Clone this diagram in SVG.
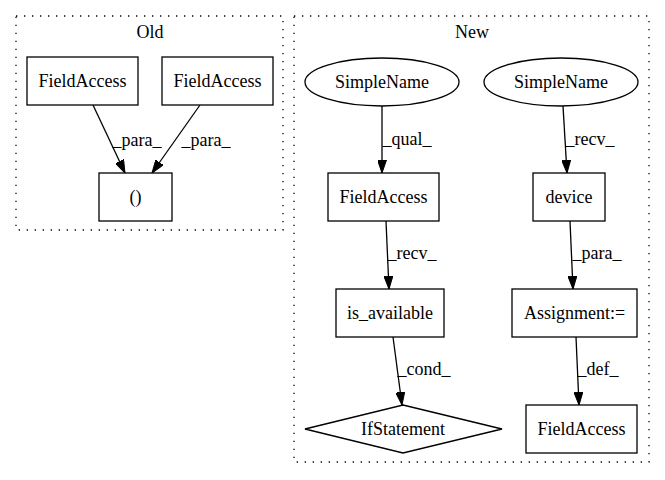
<svg xmlns="http://www.w3.org/2000/svg" width="665" height="480" viewBox="0 0 665 480">
<style>
text{font-family:"Liberation Serif","Times New Roman",serif;font-size:18px;fill:#000;text-anchor:middle}
.n{fill:#fff;stroke:#000;stroke-width:1.3}
.c{fill:none;stroke:#000;stroke-width:1.3;stroke-dasharray:1.3,6.7}
.e{fill:none;stroke:#000;stroke-width:1.3;marker-end:url(#a)}
</style>
<defs>
<marker id="a" markerWidth="13" markerHeight="9" refX="13" refY="4.5" orient="auto" markerUnits="userSpaceOnUse">
<path d="M0,0 L13,4.5 L0,9 z" fill="#000" stroke="#000"/>
</marker>
</defs>
<rect width="665" height="480" fill="#fff"/>
<g id="cluster_old">
<rect class="c" x="16" y="16" width="267" height="214"/>
<text x="150" y="38">Old</text>
</g>
<g id="cluster_new">
<rect class="c" x="294" y="16" width="355" height="446"/>
<text x="472" y="38">New</text>
</g>
<g id="edges">
<path class="e" d="M93,105 L125,173"/>
<text x="137" y="146">_para_</text>
<path class="e" d="M200,105 L152,173"/>
<text x="206" y="146">_para_</text>
<path class="e" d="M382,106 L382,173"/>
<text x="407" y="145">_qual_</text>
<path class="e" d="M563,106 L567,173"/>
<text x="590" y="145">_recv_</text>
<path class="e" d="M386,221 L389,289"/>
<text x="412" y="259">_recv_</text>
<path class="e" d="M570,221 L573,289"/>
<text x="597" y="259">_para_</text>
<path class="e" d="M393,337 L402,405"/>
<text x="424" y="375">_cond_</text>
<path class="e" d="M576,337 L579,405"/>
<text x="598" y="375">_def_</text>
</g>
<g id="old_fa1"><rect class="n" x="27" y="57" width="111" height="48"/><text x="82.5" y="87">FieldAccess</text></g>
<g id="old_fa2"><rect class="n" x="162" y="57" width="111" height="48"/><text x="217.5" y="87">FieldAccess</text></g>
<g id="old_paren"><rect class="n" x="99" y="173" width="73" height="48"/><text x="135.5" y="203">()</text></g>
<g id="new_sn1"><ellipse class="n" cx="382" cy="82" rx="77" ry="24"/><text x="382" y="88">SimpleName</text></g>
<g id="new_sn2"><ellipse class="n" cx="561" cy="82" rx="77" ry="24"/><text x="561" y="88">SimpleName</text></g>
<g id="new_fa"><rect class="n" x="328" y="173" width="111" height="48"/><text x="383.5" y="203">FieldAccess</text></g>
<g id="new_device"><rect class="n" x="533" y="173" width="72" height="48"/><text x="569" y="203">device</text></g>
<g id="new_isavail"><rect class="n" x="336" y="289" width="108" height="48"/><text x="390" y="319">is_available</text></g>
<g id="new_assign"><rect class="n" x="512" y="289" width="125" height="48"/><text x="574.5" y="319">Assignment:=</text></g>
<g id="new_if"><polygon class="n" points="403,405 502,429 403,453 305,429"/><text x="403" y="435">IfStatement</text></g>
<g id="new_fa2"><rect class="n" x="526" y="405" width="111" height="48"/><text x="581.5" y="435">FieldAccess</text></g>
</svg>
